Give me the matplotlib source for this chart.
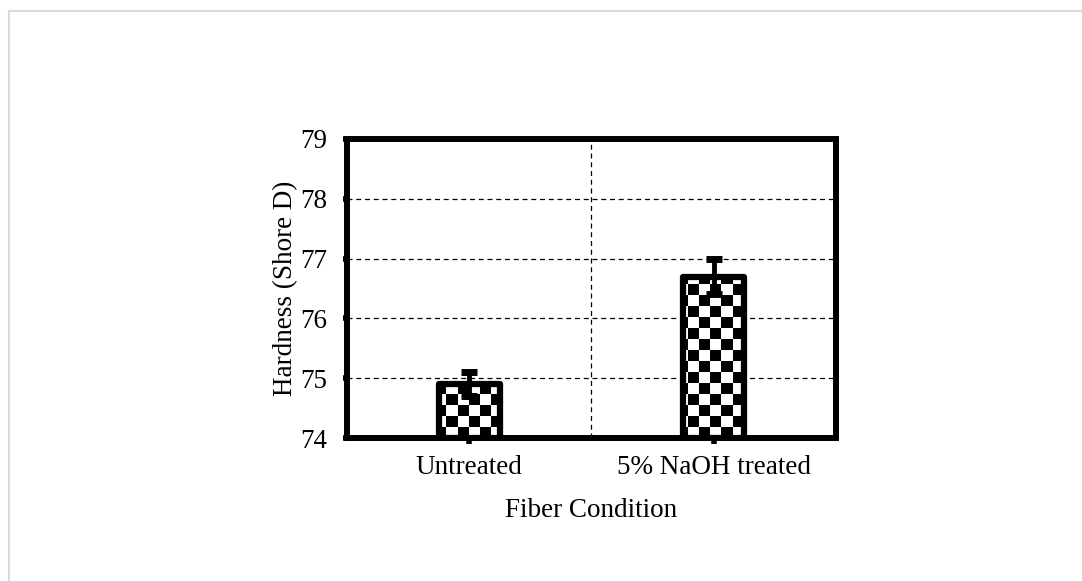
import numpy as np
import matplotlib
matplotlib.use("Agg")
import matplotlib.pyplot as plt
from matplotlib.lines import Line2D

# data
conditions = ["Untreated", "5% NaOH treated"]
hardness = [74.9, 76.7]
hardness_err = [0.2, 0.3]
y_ticks = [74, 75, 76, 77, 78, 79]

plt.rcParams['font.family'] = ['Liberation Serif', 'DejaVu Serif']
plt.rcParams['font.size'] = 19.5

fig = plt.figure(figsize=(10.82, 5.81), dpi=100)
ax = fig.add_axes([0.3207, 0.2461, 0.4519, 0.5147])

x = np.arange(len(conditions))
ax.set_xlim(-0.5, len(conditions) - 0.5)
ax.set_ylim(y_ticks[0], y_ticks[-1])

# bars: outline only, checkerboard fill is an image clipped to each bar
bars = ax.bar(x, [h - y_ticks[0] for h in hardness], width=0.25, bottom=y_ticks[0],
              facecolor='none', edgecolor='black', linewidth=4.5, zorder=3,
              joinstyle='round')

# checkerboard with ~11 px squares across the whole axes
cell_px = 11
ax_w = 0.4519 * 1082
ax_h = 0.5147 * 581
nx = int(np.ceil(ax_w / cell_px))
ny = int(np.ceil(ax_h / cell_px))
checker = (np.add.outer(np.arange(ny), np.arange(nx)) % 2).astype(float)
x0, x1 = ax.get_xlim()
y0, y1 = ax.get_ylim()
ext = [x0, x0 + nx * cell_px / ax_w * (x1 - x0), y0, y0 + ny * cell_px / ax_h * (y1 - y0)]
for b in bars:
    im = ax.imshow(checker, cmap='gray', extent=ext, origin='lower',
                   interpolation='nearest', aspect='auto', zorder=2)
    im.set_clip_path(b)
ax.set_xlim(x0, x1)
ax.set_ylim(y0, y1)

eb = ax.errorbar(x, hardness, yerr=hardness_err, fmt='none', ecolor='black',
                 elinewidth=3.5, capsize=6, capthick=5, zorder=4)
for cap in eb[1]:
    cap.set_solid_capstyle('round')

# grid
for yv in y_ticks[1:-1]:
    ax.axhline(yv, color='black', linestyle=(0, (4, 3)), linewidth=0.9, zorder=1)
ax.axvline(0.5, color='black', linestyle=(0, (4, 3)), linewidth=0.9, zorder=1)

ax.set_yticks(y_ticks)
ax.set_xticks(x)
ax.set_xticklabels(conditions)
for s in ax.spines.values():
    s.set_linewidth(4.3)
ax.tick_params(axis='y', direction='out', length=3, width=4, pad=11)
ax.tick_params(axis='x', direction='out', length=4, width=4, pad=8.5)

ax.set_ylabel("Hardness (Shore D)", labelpad=1.5)
ax.set_xlabel("Fiber Condition", labelpad=13)

# light frame on the top and left of the picture
fig.add_artist(Line2D([9 / 1082, 9 / 1082], [0, 1 - 11 / 581], transform=fig.transFigure,
                      color='#d9d9d9', linewidth=1.5))
fig.add_artist(Line2D([9 / 1082, 1], [1 - 11 / 581, 1 - 11 / 581], transform=fig.transFigure,
                      color='#d9d9d9', linewidth=1.5))

fig.savefig("out.png", dpi=100)
